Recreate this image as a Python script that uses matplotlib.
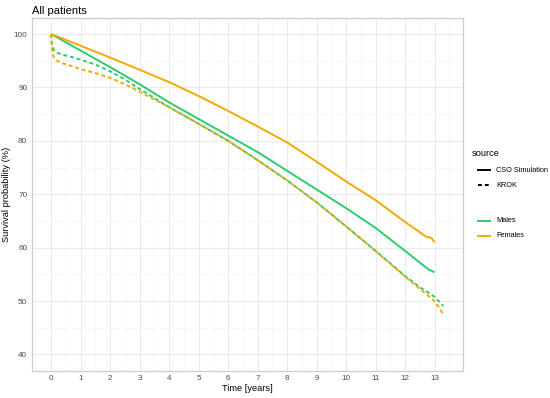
import matplotlib
matplotlib.use("Agg")
import matplotlib.pyplot as plt
from matplotlib.lines import Line2D
import numpy as np

plt.rcParams['font.family'] = ['Liberation Sans', 'DejaVu Sans']

# ---- data ----
t_cso_m = [0, 1, 2, 3, 4, 5, 6, 7, 8, 9, 10, 11, 12, 12.5, 12.8, 13]
cso_males = [100, 96.9, 93.8, 90.6, 87.2, 84.1, 81.0, 77.9, 74.4, 70.9, 67.4, 63.7, 59.4, 57.2, 55.9, 55.4]

t_cso_f = [0, 1, 2, 3, 4, 5, 6, 7, 8, 9, 10, 11, 12, 12.5, 12.7, 12.9, 13]
cso_females = [100, 97.8, 95.6, 93.3, 91.0, 88.4, 85.6, 82.7, 79.7, 76.1, 72.4, 68.9, 64.8, 62.9, 62.1, 61.8, 61.0]

t_krok = [0, 0.02, 0.05, 0.1, 0.2, 0.4, 0.7, 1, 1.5, 2, 2.5, 3, 4, 5, 6, 7, 8, 9, 10, 11, 12, 12.5, 13, 13.3]
krok_males = [100, 98.5, 97.6, 97.0, 96.5, 96.1, 95.7, 95.2, 94.3, 93.0, 91.5, 89.7, 86.3, 83.2, 80.0, 76.4, 72.6, 68.5, 64.0, 59.4, 54.7, 52.6, 50.8, 49.1]
krok_females = [100, 97.5, 96.3, 95.6, 95.0, 94.5, 94.0, 93.4, 92.7, 91.8, 90.6, 89.2, 86.3, 83.2, 80.0, 76.4, 72.6, 68.5, 64.0, 59.4, 54.6, 52.3, 50.0, 47.5]

x_ticks = list(range(0, 14))
y_ticks = [40, 50, 60, 70, 80, 90, 100]

source_labels = ["CSO Simulation", "KROK"]
sex_labels = ["Males", "Females"]

col_m = "#2ECC71"
col_f = "#F2A900"
dash = (0, (2.0, 1.5))

W, H = 550, 398
fig = plt.figure(figsize=(W / 100, H / 100), dpi=100)
ax = fig.add_axes([31.5 / W, (H - 370.5) / H, (463 - 31.5) / W, (370.5 - 18) / H])

lw = 1.4
ax.plot(t_cso_m, cso_males, color=col_m, lw=lw, solid_capstyle="butt")
ax.plot(t_cso_f, cso_females, color=col_f, lw=lw, solid_capstyle="butt")
ax.plot(t_krok, krok_males, color=col_m, lw=lw, ls=dash)
ax.plot(t_krok, krok_females, color=col_f, lw=lw, ls=dash)

ax.set_xlim(-0.665, 13.965)
ax.set_ylim(37, 103)
ax.set_xticks(x_ticks)
ax.set_yticks(y_ticks)
ax.set_xticks(np.arange(-0.5, 14, 1), minor=True)
ax.set_yticks([45, 55, 65, 75, 85, 95], minor=True)

ax.grid(which="major", color="#E6E6E6", lw=0.6)
ax.grid(which="minor", color="#F2F2F2", lw=0.4)
ax.set_axisbelow(True)
for s in ax.spines.values():
    s.set_color("#CDCDCD")
    s.set_linewidth(0.9)
ax.tick_params(which="major", length=0, labelsize=5.9, labelcolor="#4D4D4D", pad=3)
ax.tick_params(which="minor", length=0)

ax.set_xlabel("Time [years]", fontsize=6.7, color="black", labelpad=2.0)
ax.set_ylabel("Survival probability (%)", fontsize=6.7, color="black", labelpad=1.8)
fig.text(32 / W, 1 - 13.5 / H, "All patients", fontsize=8.0, va="baseline", ha="left")

# legends drawn by hand to match the ggplot layout
def fy(py):
    return 1 - py / H

fig.text(472 / W, fy(154), "source", fontsize=6.7, va="center", ha="left")
for lab, ls, py in zip(source_labels, ["-", dash], [170.5, 185.5]):
    fig.add_artist(Line2D([478 / W, 490 / W], [fy(py), fy(py)], color="black", lw=lw,
                          ls=ls, transform=fig.transFigure))
    fig.text(496 / W, fy(py), lab, fontsize=5.3, va="center", ha="left")
for lab, c, py in zip(sex_labels, [col_m, col_f], [220.5, 235.5]):
    fig.add_artist(Line2D([478 / W, 490 / W], [fy(py), fy(py)], color=c, lw=lw,
                          transform=fig.transFigure))
    fig.text(496 / W, fy(py), lab, fontsize=5.3, va="center", ha="left")

fig.savefig("out.png", dpi=100)
